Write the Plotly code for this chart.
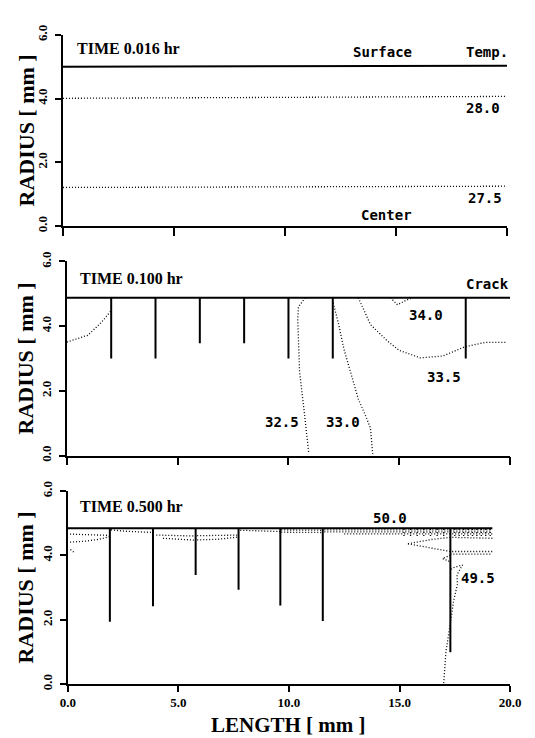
import plotly.graph_objects as go

# ---------------- data ----------------
x_tick_vals = [0, 5, 10, 15, 20]
x_tick_text = ["0.0", "5.0", "10.0", "15.0", "20.0"]
y_tick_vals = [0, 2, 4, 6]
y_tick_text = ["0.0", "2.0", "4.0", "6.0"]
length_range = [0.0, 20.0]
radius_range = [0.0, 6.0]

time_labels = ["TIME 0.016 hr", "TIME 0.100 hr", "TIME 0.500 hr"]

# Panel 1 : t = 0.016 hr
p1_surface_x = [0.0, 20.0]
p1_surface_r = [5.0, 5.03]
p1_iso280_x = [0.0, 20.0]
p1_iso280_r = [4.01, 4.07]
p1_iso275_x = [0.0, 20.0]
p1_iso275_r = [1.21, 1.25]
p1_text = ["Surface", "Temp.", "28.0", "27.5", "Center"]
p1_text_x = [14.41, 19.09, 18.94, 19.0, 14.57]
p1_text_r = [5.46, 5.46, 3.71, 0.87, 0.34]

# Panel 2 : t = 0.100 hr
p2_surface_x = [0.0, 20.0]
p2_surface_r = [4.88, 4.88]
p2_crack_x = [2.0, 4.0, 6.0, 8.0, 10.0, 12.0, 18.0]
p2_crack_tip_r = [3.0, 3.0, 3.47, 3.47, 3.0, 3.0, 3.0]
p2_left_x = [0.0, 0.95, 1.56, 2.0]
p2_left_r = [3.51, 3.72, 4.12, 4.48]
p2_iso325_x = [10.76, 10.45, 10.42, 10.5, 10.72, 10.92]
p2_iso325_r = [4.88, 4.6, 4.2, 2.6, 1.3, 0.05]
p2_iso330_x = [12.02, 12.25, 12.5, 12.85, 13.15, 13.5, 13.7, 13.8]
p2_iso330_r = [4.72, 4.1, 3.3, 2.5, 1.75, 1.2, 0.85, 0.05]
p2_iso335_x = [13.15, 13.4, 13.7, 14.45, 15.0, 15.95, 16.98, 17.95, 18.9, 19.87]
p2_iso335_r = [4.88, 4.5, 4.05, 3.55, 3.25, 3.02, 3.08, 3.36, 3.5, 3.5]
p2_iso340_x = [14.6, 14.92, 15.3, 15.6]
p2_iso340_r = [4.88, 4.66, 4.8, 4.88]
p2_text = ["Crack", "34.0", "33.5", "32.5", "33.0"]
p2_text_x = [18.96, 16.2, 17.03, 9.7, 12.46]
p2_text_r = [5.31, 4.35, 2.42, 1.05, 1.05]

# Panel 3 : t = 0.500 hr
p3_surface_x = [0.0, 19.2]
p3_surface_r = [4.84, 4.84]
p3_crack_x = [1.9, 3.85, 5.78, 7.72, 9.61, 11.53, 17.3]
p3_crack_tip_r = [1.94, 2.42, 3.39, 2.93, 2.44, 1.96, 0.99]
p3_a_x = [0.1, 1.0, 1.9]
p3_a_r = [4.66, 4.65, 4.62]
p3_b_x = [0.1, 0.8, 1.4, 1.9]
p3_b_r = [4.41, 4.44, 4.5, 4.58]
p3_c_x = [0.12, 0.3]
p3_c_r = [4.18, 4.08]
p3_d_x = [1.95, 2.6, 3.85]
p3_d_r = [4.79, 4.75, 4.71]
p3_e1_x = [4.0, 5.78]
p3_e1_r = [4.63, 4.6]
p3_e2_x = [4.3, 5.0, 5.78]
p3_e2_r = [4.53, 4.5, 4.47]
p3_f1_x = [5.85, 7.72]
p3_f1_r = [4.61, 4.63]
p3_f2_x = [5.85, 6.8, 7.72]
p3_f2_r = [4.48, 4.5, 4.57]
p3_g_x = [7.8, 9.61]
p3_g_r = [4.78, 4.74]
p3_h1_x = [9.65, 11.53]
p3_h1_r = [4.79, 4.78]
p3_h2_x = [9.65, 11.53]
p3_h2_r = [4.72, 4.71]
p3_i1_x = [11.6, 19.2]
p3_i1_r = [4.79, 4.79]
p3_i2_x = [11.6, 19.2]
p3_i2_r = [4.73, 4.73]
p3_i3_x = [12.5, 19.2]
p3_i3_r = [4.67, 4.67]
p3_v1_x = [15.38, 16.42, 17.3, 19.2]
p3_v1_r = [4.36, 4.49, 4.56, 4.53]
p3_v2_x = [15.38, 16.4, 17.3, 19.2]
p3_v2_r = [4.36, 4.22, 4.12, 4.12]
p3_v3_x = [17.3, 19.2]
p3_v3_r = [4.04, 4.04]
p3_w_x = [17.3, 16.94, 17.3]
p3_w_r = [4.0, 3.9, 3.8]
p3_iso495_x = [17.0, 17.1, 17.3, 17.45, 17.62, 17.6, 17.85, 17.45, 17.3]
p3_iso495_r = [0.03, 1.0, 1.9, 2.6, 3.1, 3.4, 3.7, 3.62, 3.55]
p3_hatch_x = [15.2, 15.5, 15.8, 16.1, 16.4, 16.7, 17.0, 17.5, 17.7, 17.9,
              18.1, 18.3, 18.5, 18.7, 18.9, 19.1]
p3_hatch_r = [4.6, 4.82]
p3_text = ["50.0", "49.5"]
p3_text_x = [14.55, 18.57]
p3_text_r = [5.17, 3.31]

# ---------------- styling ----------------
SERIF = "Liberation Serif, Times New Roman, serif"
MONO = "DejaVu Sans Mono, monospace"
DOT = "1px,2px"

fig = go.Figure()


def add_line(x, r, n, dotted=False, width=None):
    ax = "" if n == 1 else str(n)
    fig.add_trace(go.Scatter(
        x=x, y=r, mode="lines", xaxis="x" + ax, yaxis="y" + ax,
        line=dict(color="black",
                  width=width if width else (1.3 if dotted else 2),
                  dash=DOT if dotted else "solid"),
        hoverinfo="skip", showlegend=False))


def cracks(cx, tip, surf):
    xs, rs = [], []
    for c, t in zip(cx, tip):
        xs += [c, c, None]
        rs += [surf, t, None]
    return xs, rs


# panel 1
add_line(p1_surface_x, p1_surface_r, 1)
add_line(p1_iso280_x, p1_iso280_r, 1, True)
add_line(p1_iso275_x, p1_iso275_r, 1, True)

# panel 2
add_line(p2_surface_x, p2_surface_r, 2)
cx, cr = cracks(p2_crack_x, p2_crack_tip_r, p2_surface_r[0])
add_line(cx, cr, 2)
for xx, rr in [(p2_left_x, p2_left_r), (p2_iso325_x, p2_iso325_r),
               (p2_iso330_x, p2_iso330_r), (p2_iso335_x, p2_iso335_r),
               (p2_iso340_x, p2_iso340_r)]:
    add_line(xx, rr, 2, True)

# panel 3
for xx, rr in [(p3_a_x, p3_a_r), (p3_b_x, p3_b_r), (p3_c_x, p3_c_r),
               (p3_d_x, p3_d_r), (p3_e1_x, p3_e1_r), (p3_e2_x, p3_e2_r),
               (p3_f1_x, p3_f1_r), (p3_f2_x, p3_f2_r), (p3_g_x, p3_g_r),
               (p3_h1_x, p3_h1_r), (p3_h2_x, p3_h2_r), (p3_i1_x, p3_i1_r),
               (p3_i2_x, p3_i2_r), (p3_i3_x, p3_i3_r), (p3_v1_x, p3_v1_r),
               (p3_v2_x, p3_v2_r), (p3_v3_x, p3_v3_r), (p3_w_x, p3_w_r),
               (p3_iso495_x, p3_iso495_r)]:
    add_line(xx, rr, 3, True)
hx, hr = [], []
for h in p3_hatch_x:
    hx += [h, h, None]
    hr += [p3_hatch_r[0], p3_hatch_r[1], None]
add_line(hx, hr, 3, True)
add_line(p3_surface_x, p3_surface_r, 3)
cx, cr = cracks(p3_crack_x, p3_crack_tip_r, p3_surface_r[0])
add_line(cx, cr, 3)

# ---------------- axes ----------------
x_domains = [[0.0065, 0.989], [0.0152, 0.9957], [0.0174, 0.9957]]
y_domains = [[0.7021, 0.9925], [0.3533, 0.6482], [0.006, 0.2994]]

# the page body adds an 8px margin, so the figure is 8px smaller than the window
layout = dict(
    width=527, height=730,
    margin=dict(l=52, r=15, t=12, b=50),
    paper_bgcolor="white", plot_bgcolor="white",
    showlegend=False,
)
for i in range(3):
    n = i + 1
    ax = "" if n == 1 else str(n)
    layout["xaxis" + ax] = dict(
        domain=x_domains[i], range=length_range, anchor="y" + ax,
        showline=True, linecolor="black", linewidth=1.6,
        ticks="outside", ticklen=(6 if n == 3 else 8), tickwidth=1.5,
        tickcolor="black",
        tickvals=x_tick_vals, ticktext=x_tick_text,
        showticklabels=(n == 3), ticklabelstandoff=0,
        tickfont=dict(family=SERIF, size=13, color="black", weight="bold"),
        showgrid=False, zeroline=False, fixedrange=True,
    )
    layout["yaxis" + ax] = dict(
        domain=y_domains[i], range=radius_range, anchor="x" + ax,
        showline=True, linecolor="black", linewidth=1.6,
        ticks="outside", ticklen=6, tickwidth=1.5, tickcolor="black",
        tickvals=y_tick_vals, ticktext=y_tick_text, tickangle=-90,
        ticklabelstandoff=3,
        tickfont=dict(family=SERIF, size=13, color="black", weight="bold"),
        showgrid=False, zeroline=False, fixedrange=True,
    )
fig.update_layout(**layout)

# ---------------- text ----------------
ann = []
time_r = [5.58, 5.47, 5.51]
time_x = [0.53, 0.5, 0.45]
for i in range(3):
    n = i + 1
    ax = "" if n == 1 else str(n)
    ann.append(dict(
        text="<b>RADIUS [ mm ]</b>", textangle=-90,
        xref="paper", x=0, xshift=-34, xanchor="center",
        yref="y" + ax + " domain", y=0.5, yanchor="middle",
        showarrow=False, font=dict(family=SERIF, size=22, color="black")))
    ann.append(dict(
        text="<b>" + time_labels[i] + "</b>",
        xref="x" + ax, x=time_x[i], xanchor="left",
        yref="y" + ax, y=time_r[i], yanchor="middle",
        showarrow=False, font=dict(family=SERIF, size=16, color="black")))

for n, texts, xs, rs in [(1, p1_text, p1_text_x, p1_text_r),
                         (2, p2_text, p2_text_x, p2_text_r),
                         (3, p3_text, p3_text_x, p3_text_r)]:
    ax = "" if n == 1 else str(n)
    for t, xx, rr in zip(texts, xs, rs):
        ann.append(dict(
            text="<b>" + t + "</b>", xref="x" + ax, x=xx, yref="y" + ax, y=rr,
            xanchor="center", yanchor="middle", showarrow=False,
            font=dict(family=MONO, size=14, color="black")))

ann.append(dict(
    text="<b>LENGTH [ mm ]</b>", xref="x3 domain", x=0.5, xanchor="center",
    yref="paper", y=0, yshift=-37, yanchor="middle", showarrow=False,
    font=dict(family=SERIF, size=21, color="black")))
fig.update_layout(annotations=ann)

fig.write_html("out.html")
